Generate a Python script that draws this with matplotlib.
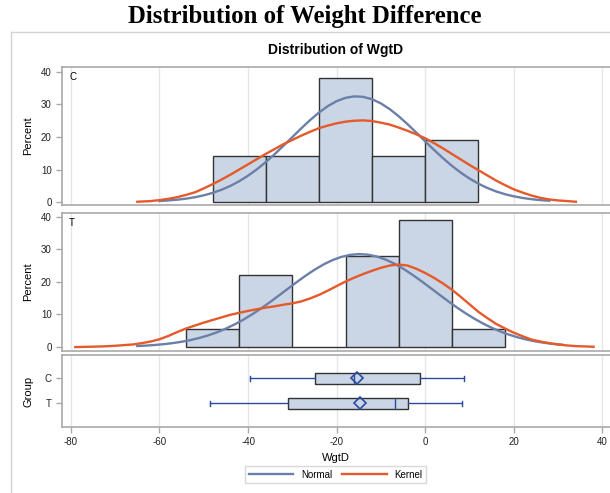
import matplotlib
matplotlib.use("Agg")
import matplotlib.pyplot as plt
from matplotlib.lines import Line2D

plt.rcParams['font.family'] = ['Liberation Sans', 'DejaVu Sans']
plt.rcParams['axes.unicode_minus'] = False

# histogram bins (left edges, width 12) and percents
c_edges = [-48, -36, -24, -12, 0]
c_pct = [14.29, 14.29, 38.10, 14.29, 19.05]
t_edges = [-54, -42, -30, -18, -6, 6]
t_pct = [5.56, 22.22, 0.0, 27.78, 38.89, 5.56]
bin_w = 12

# fitted curves
c_norm_x = [-60, -58, -56, -54, -52, -50, -48, -46, -44, -42, -40, -38, -36, -34, -32, -30, -28, -26, -24, -22,
            -20, -18, -16, -14, -12, -10, -8, -6, -4, -2, 0, 2, 4, 6, 8, 10, 12, 14, 16, 18, 20, 22, 24, 26, 28]
c_norm_y = [0.33, 0.50, 0.73, 1.05, 1.49, 2.07, 2.82, 3.78, 4.96, 6.40, 8.11, 10.07, 12.29, 14.72, 17.31, 19.98,
            22.64, 25.18, 27.50, 29.47, 31.01, 32.03, 32.48, 32.33, 31.59, 30.30, 28.53, 26.37, 23.93, 21.32,
            18.64, 16.00, 13.48, 11.15, 9.06, 7.22, 5.65, 4.34, 3.27, 2.42, 1.76, 1.26, 0.88, 0.60, 0.41]
c_kern_x = [-65, -62, -60, -58, -56, -54, -52, -50, -48, -46, -44, -42, -40, -38, -36, -34, -32, -30, -28, -26,
            -24, -22, -20, -18, -16, -14, -12, -10, -8, -6, -4, -2, 0, 2, 4, 6, 8, 10, 12, 14, 16, 18, 20, 22,
            24, 26, 28, 30, 32, 34]
c_kern_y = [0.1, 0.3, 0.6, 1.0, 1.5, 2.2, 3.0, 4.2, 5.5, 6.9, 8.4, 10.0, 11.6, 13.2, 14.8, 16.3, 17.8, 19.1,
            20.4, 21.6, 22.7, 23.5, 24.2, 24.7, 25.0, 25.1, 24.9, 24.4, 23.8, 22.9, 21.9, 20.8, 19.6, 18.1,
            16.5, 14.8, 13.1, 11.4, 9.8, 8.2, 6.6, 5.2, 3.9, 2.9, 2.0, 1.3, 0.8, 0.5, 0.3, 0.1]
t_norm_x = [-65, -63, -61, -59, -57, -55, -53, -51, -49, -47, -45, -43, -41, -39, -37, -35, -33, -31, -29, -27,
            -25, -23, -21, -19, -17, -15, -13, -11, -9, -7, -5, -3, -1, 1, 3, 5, 7, 9, 11, 13, 15, 17, 19, 21,
            23, 25, 27, 29, 31]
t_norm_y = [0.33, 0.46, 0.65, 0.90, 1.22, 1.63, 2.15, 2.80, 3.59, 4.54, 5.67, 6.97, 8.45, 10.10, 11.90, 13.83,
            15.85, 17.90, 19.94, 21.89, 23.70, 25.30, 26.63, 27.62, 28.26, 28.50, 28.34, 27.78, 26.85, 25.59,
            24.04, 22.27, 20.34, 18.31, 16.26, 14.23, 12.28, 10.45, 8.76, 7.25, 5.91, 4.75, 3.77, 2.94, 2.27,
            1.72, 1.29, 0.95, 0.69]
t_kern_x = [-79, -76, -73, -70, -68, -66, -64, -62, -60, -58, -56, -54, -52, -50, -48, -46, -44, -42, -40, -38,
            -36, -34, -32, -30, -28, -26, -24, -22, -20, -18, -16, -14, -12, -10, -8, -6, -4, -2, 0, 2, 4, 6,
            8, 10, 12, 14, 16, 18, 20, 22, 24, 26, 28, 30, 32, 34, 36, 38]
t_kern_y = [0.0, 0.1, 0.2, 0.4, 0.6, 0.8, 1.2, 1.7, 2.4, 3.4, 4.6, 5.7, 6.6, 7.5, 8.3, 9.1, 9.9, 10.5, 11.1,
            11.6, 12.1, 12.5, 13.0, 13.4, 14.0, 14.9, 16.0, 17.3, 18.7, 20.1, 21.3, 22.4, 23.4, 24.3, 25.0,
            25.3, 25.0, 24.0, 22.7, 21.2, 19.5, 17.6, 15.4, 13.1, 10.8, 8.9, 7.1, 5.7, 4.4, 3.3, 2.3, 1.7,
            1.2, 0.8, 0.5, 0.3, 0.2, 0.1]

# box plot summary per group
groups = ['C', 'T']
whislo = [-39.6, -48.5]
q1 = [-24.9, -31.0]
med = [-16.0, -6.8]
q3 = [-1.1, -4.0]
whishi = [8.8, 8.2]
means = [-15.4, -14.8]

xticks = [-80, -60, -40, -20, 0, 20, 40]

W, H = 610, 493
fill = '#CAD5E5'
norm_col = '#6B80A8'
kern_col = '#E45A2A'
box_blue = '#2B4C9E'
frame = '#A9A9A9'


def rect(left, top, right, bottom):
    return [left / W, 1 - bottom / H, (right - left) / W, (bottom - top) / H]


def style(ax):
    for s in ax.spines.values():
        s.set_color(frame)
        s.set_linewidth(1.2)
    ax.spines['right'].set_visible(False)
    ax.set_xlim(-82.0, 41.7)
    ax.set_xticks(xticks)
    ax.grid(axis='x', color='#E6E6E6', lw=1)
    ax.set_axisbelow(True)
    ax.tick_params(axis='y', colors=frame, labelcolor='#222222', labelsize=7, length=4, width=1)


fig = plt.figure(figsize=(W / 100, H / 100), dpi=100)

fig.text(0.5, 1 - 16 / H, 'Distribution of Weight Difference', family='Liberation Serif',
         weight='bold', fontsize=17.8, ha='center', va='center')
fig.text(336 / W, 1 - 50 / H, 'Distribution of WgtD', weight='bold', fontsize=10,
         ha='center', va='center')
fig.add_artist(Line2D([11 / W, 1], [1 - 32 / H] * 2, color='#D3D3D3', lw=1, transform=fig.transFigure))
fig.add_artist(Line2D([11 / W] * 2, [0, 1 - 32 / H], color='#D3D3D3', lw=1, transform=fig.transFigure))

panels = [
    (rect(62, 67, 610, 205), 'C', c_edges, c_pct, c_norm_x, c_norm_y, c_kern_x, c_kern_y, (-0.9, 41.5)),
    (rect(62, 213, 610, 351), 'T', t_edges, t_pct, t_norm_x, t_norm_y, t_kern_x, t_kern_y, (-1.2, 41.1)),
]
for pos, lab, edges, pct, nx, ny, kx, ky, ylim in panels:
    ax = fig.add_axes(pos)
    style(ax)
    ax.bar(edges, pct, width=bin_w, align='edge', color=fill, edgecolor='#333333', lw=1, zorder=2)
    ax.plot(nx, ny, color=norm_col, lw=1.7, zorder=3, solid_joinstyle='round')
    ax.plot(kx, ky, color=kern_col, lw=1.7, zorder=3, solid_joinstyle='round')
    ax.set_ylim(*ylim)
    ax.set_yticks([0, 10, 20, 30, 40])
    ax.tick_params(axis='x', length=0, labelbottom=False)
    ax.set_ylabel('Percent', fontsize=8)
    ax.yaxis.set_label_coords(-29 / 548, 0.5)
    ax.text(0.0128, 0.931, lab, transform=ax.transAxes, fontsize=7, ha='left', va='center')

axb = fig.add_axes(rect(62, 355, 610, 427))
style(axb)
stats = [dict(label=g, whislo=a, q1=b, med=c, q3=d, whishi=e, mean=m, fliers=[])
         for g, a, b, c, d, e, m in zip(groups, whislo, q1, med, q3, whishi, means)]
axb.bxp(stats, positions=[0, 1], orientation='horizontal', widths=0.44, showmeans=True,
        patch_artist=True, manage_ticks=False, capwidths=0.2,
        boxprops=dict(facecolor=fill, edgecolor='#333333', lw=1),
        whiskerprops=dict(color=box_blue, lw=1), capprops=dict(color=box_blue, lw=1),
        medianprops=dict(color=box_blue, lw=1),
        meanprops=dict(marker='D', markerfacecolor='none', markeredgecolor=box_blue,
                       markersize=6, markeredgewidth=1.2))
axb.set_ylim(1.96, -0.92)
axb.set_yticks([0, 1])
axb.set_yticklabels(groups)
axb.tick_params(axis='x', colors=frame, labelcolor='#222222', labelsize=7, length=4, width=1, pad=3)
axb.set_ylabel('Group', fontsize=8)
axb.yaxis.set_label_coords(-29 / 548, 0.5)
axb.set_xlabel('WgtD', fontsize=8)
axb.xaxis.set_label_coords(0.5, -0.36)

handles = [Line2D([], [], color=norm_col, lw=1.7), Line2D([], [], color=kern_col, lw=1.7)]
leg = fig.legend(handles, ['Normal', 'Kernel'], loc='center', bbox_to_anchor=(335.5 / W, 1 - 474.5 / H),
                 ncol=2, fontsize=7, frameon=True, fancybox=False, edgecolor='#D0D0D0',
                 handlelength=4.6, columnspacing=1.0, handletextpad=0.8, borderpad=0.4)
leg.get_frame().set_linewidth(1)

fig.savefig('out.png', dpi=100)
